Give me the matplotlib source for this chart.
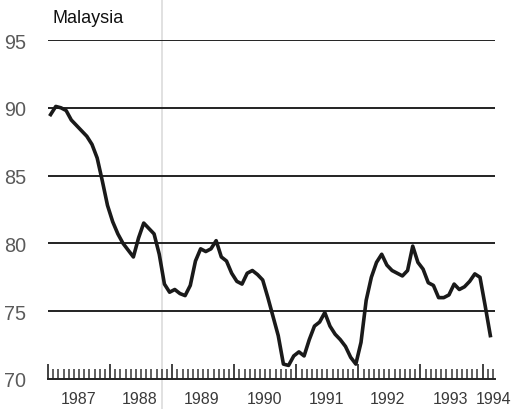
import numpy as np
import matplotlib
matplotlib.use("Agg")
import matplotlib.pyplot as plt
from matplotlib.ticker import MultipleLocator, NullFormatter
import matplotlib.transforms as mtransforms

plt.rcParams["font.family"] = ["Liberation Sans", "DejaVu Sans"]

# Monthly index, Jan 1987 .. Feb 1994
values = [
    89.5, 90.1, 90.0, 89.8, 89.1, 88.7, 88.3, 87.9, 87.3, 86.3, 84.6, 82.8,
    81.6, 80.7, 80.0, 79.5, 79.0, 80.4, 81.5, 81.1, 80.7, 79.2, 77.0, 76.4,
    76.6, 76.3, 76.15, 76.9, 78.7, 79.6, 79.4, 79.6, 80.2, 79.0, 78.7, 77.8,
    77.2, 77.0, 77.8, 78.0, 77.7, 77.3, 76.0, 74.6, 73.2, 71.1, 71.0, 71.7,
    72.0, 71.7, 72.9, 73.9, 74.2, 74.9, 73.9, 73.3, 72.9, 72.4, 71.6, 71.1,
    72.7, 75.8, 77.5, 78.6, 79.2, 78.4, 78.0, 77.8, 77.6, 78.0, 79.8, 78.6,
    78.1, 77.1, 76.9, 76.0, 76.0, 76.2, 77.0, 76.6, 76.8, 77.2, 77.75, 77.5,
    75.4, 73.2,
]
start_year = 1987
years = start_year + (np.arange(len(values)) + 0.5) / 12
year_labels = ["1987", "1988", "1989", "1990", "1991", "1992", "1993", "1994"]
label_pos = [1987.5, 1988.47, 1989.47, 1990.49, 1991.48, 1992.46, 1993.48, 1994.18]
yticks = [70, 75, 80, 85, 90, 95]
gridlines = [75, 80, 85, 90, 95]

fig = plt.figure(figsize=(5.13, 4.10), dpi=100)
ax = fig.add_axes([0.0936, 0.0732, 0.8713, 0.8268])
ax.patch.set_visible(False)

for g in gridlines:
    ax.axhline(g, color="#222222", lw=1.4, zorder=1)

ax.plot(years, values, color="#1a1a1a", lw=2.6, solid_joinstyle="round", zorder=3)

ax.set_xlim(1987, 1994.2)
ax.set_ylim(70, 95)

for s in ["top", "right", "left"]:
    ax.spines[s].set_visible(False)
ax.spines["bottom"].set_linewidth(1.4)
ax.spines["bottom"].set_color("#222222")

ax.xaxis.set_major_locator(MultipleLocator(1))
ax.xaxis.set_minor_locator(MultipleLocator(1 / 12))
ax.xaxis.set_major_formatter(NullFormatter())
ax.tick_params(axis="x", which="major", direction="in", length=11, width=1.3, color="#333333")
ax.tick_params(axis="x", which="minor", direction="in", length=7, width=1.2, color="#444444")

ax.set_yticks(yticks)
ax.tick_params(axis="y", length=0, pad=16, labelsize=14.3, labelcolor="#5a5a5a")

xt = ax.get_xaxis_transform()
for lbl, pos in zip(year_labels, label_pos):
    ax.text(pos, -0.036, lbl, transform=xt, ha="center", va="top",
            fontsize=11.5, color="#3a3a3a")

ax.text(1987.08, 1.04, "Malaysia", transform=xt, ha="left", va="bottom",
        fontsize=13, color="#111111")

# faint vertical fold line from the scanned page
fold = mtransforms.blended_transform_factory(ax.transData, fig.transFigure)
fig.add_artist(plt.Line2D([1988.84, 1988.84], [0, 1], transform=fold,
                          color="#dcdcdc", lw=1.2, zorder=-1))

fig.savefig("out.png", dpi=100)
